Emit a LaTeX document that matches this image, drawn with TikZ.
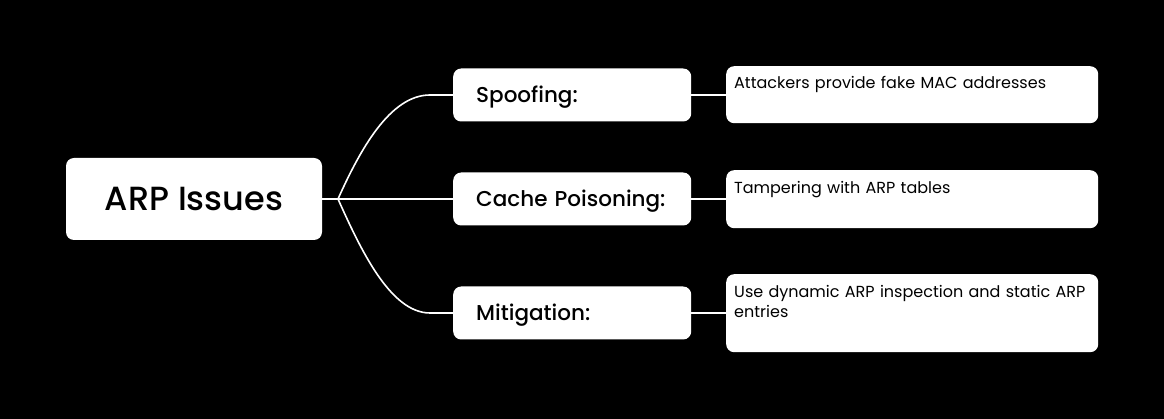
\documentclass[tikz,border=0pt]{standalone}
\usepackage{fontspec}
\setmainfont{Poppins}
\newfontfamily\medfont{Poppins Medium}
\begin{document}
\begin{tikzpicture}[x=1pt,y=-1pt,
  box/.style={fill=white, rounded corners=8pt, draw=none, inner sep=0pt},
  rootbox/.style={box, minimum width=256pt, minimum height=82pt, font=\medfont\fontsize{33.5}{38}\selectfont},
  midbox/.style={box, minimum width=238pt, minimum height=53pt, anchor=west, align=left, text width=192pt, inner xsep=23pt, text height=16pt, text depth=1pt, font=\medfont\fontsize{21.5}{26}\selectfont},
  detbox/.style={box, minimum width=372pt, anchor=north west},
  dettext/.style={anchor=north west, align=left, text width=364pt, inner sep=0pt, font=\fontsize{16}{20}\selectfont},
  conn/.style={draw=white, line width=1.6pt}
]
\useasboundingbox[fill=black] (0,0) rectangle (1164,419);
\node[rootbox] (root) at (194,199) {ARP Issues};
\coordinate (br) at (338,199);
\node[midbox] (spoof) at (453,95) {Spoofing:};
\node[midbox] (cache) at (453,199) {Cache Poisoning:};
\node[midbox] (mit) at (453,313) {Mitigation:};
\node[detbox, minimum height=57pt] (d1) at (726,66) {};
\node[detbox, minimum height=58pt] (d2) at (726,170) {};
\node[detbox, minimum height=78pt] (d3) at (726,274) {};
\node[dettext] (t1) at (734,76) {Attackers provide fake MAC addresses};
\node[dettext] (t2) at (734,181) {Tampering with ARP tables};
\node[dettext] (t3) at (734,285) {Use dynamic ARP inspection and static ARP\\entries};
\coordinate (c1) at (430,95);
\coordinate (c3) at (430,313);
\draw[conn] (root.east) -- (br);
\draw[conn] (br) .. controls (360,150) and (390,95) .. (c1) -- (spoof.west);
\draw[conn] (br) -- (cache.west);
\draw[conn] (br) .. controls (360,248) and (390,313) .. (c3) -- (mit.west);
\draw[conn] (spoof.east) -- (spoof.east -| d1.west);
\draw[conn] (cache.east) -- (cache.east -| d2.west);
\draw[conn] (mit.east) -- (mit.east -| d3.west);
\end{tikzpicture}
\end{document}
